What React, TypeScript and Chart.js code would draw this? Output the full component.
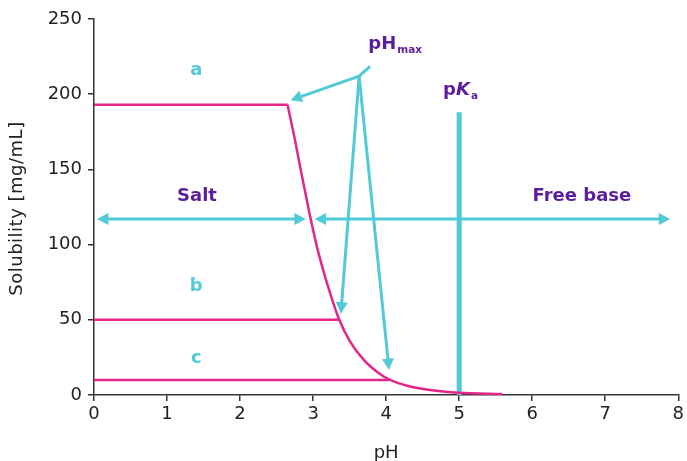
import React, { useEffect, useRef } from 'react';
import { Chart, registerables } from 'chart.js';

Chart.register(...registerables);

// ---- data ----
// plateau of curve "a" and the falling solubility curve above pHmax
const plateauA_PH = [0, 2.65];
const plateauA_Sol = [193, 193];
const curvePH = [2.65, 2.75, 2.85, 2.95, 3.05, 3.15, 3.25, 3.35, 3.5, 3.7, 3.9, 4.04, 4.3, 4.6, 5.0, 5.59];
const curveSol = [193, 170, 145, 121, 99, 81, 65, 51, 36, 23, 14.5, 10.4, 6, 3.3, 1.5, 0.7];
const lineB_PH = [0, 3.35];
const lineB_Sol = [50, 50];
const lineC_PH = [0, 4.05];
const lineC_Sol = [10, 10];
const pKaX = [5, 5];
const pKaY = [0, 188];

const xTicks = [0, 1, 2, 3, 4, 5, 6, 7, 8];
const yTicks = [0, 50, 100, 150, 200, 250];
const xTitle = 'pH';
const yTitle = 'Solubility [mg/mL]';

// arrows [x0, y0, x1, y1] in data units
const saltArrow = [0.04, 117, 2.9, 117];
const baseArrow = [3.02, 117, 7.89, 117];
const phMaxOrigin = [3.63, 212];
const phMaxTargets = [
  [2.69, 196],
  [3.38, 54],
  [4.04, 16.6],
];
const phMaxTick = [3.78, 218.5];

// labels
const letterLabels = ['a', 'b', 'c'];
const letterX = [1.4, 1.4, 1.4];
const letterY = [216, 72.5, 24.6];
const regionLabels = ['Salt', 'Free base'];
const regionX = [1.41, 6.68];
const regionY = [132.3, 132.3];
const phMaxPos = [3.755, 230];
const pKaPos = [4.78, 199.5];

const MAGENTA = '#e5258c';
const CYAN = '#4fcad6';
const PURPLE = '#5b1d9b';
const FONT = '"DejaVu Sans", Verdana, sans-serif';

function pts(xs: number[], ys: number[]) {
  return xs.map((x, i) => ({ x, y: ys[i] }));
}

function drawHead(ctx: CanvasRenderingContext2D, tx: number, ty: number, ang: number, len: number, half: number) {
  ctx.beginPath();
  ctx.moveTo(tx, ty);
  ctx.lineTo(tx - len * Math.cos(ang) + half * Math.sin(ang), ty - len * Math.sin(ang) - half * Math.cos(ang));
  ctx.lineTo(tx - len * Math.cos(ang) - half * Math.sin(ang), ty - len * Math.sin(ang) + half * Math.cos(ang));
  ctx.closePath();
  ctx.fill();
}

function drawArrow(ctx: CanvasRenderingContext2D, x0: number, y0: number, x1: number, y1: number, startHead: boolean, endHead: boolean) {
  const ang = Math.atan2(y1 - y0, x1 - x0);
  const len = 11.5;
  const half = 6;
  const sx = startHead ? x0 + (len - 2) * Math.cos(ang) : x0;
  const sy = startHead ? y0 + (len - 2) * Math.sin(ang) : y0;
  const ex = endHead ? x1 - (len - 2) * Math.cos(ang) : x1;
  const ey = endHead ? y1 - (len - 2) * Math.sin(ang) : y1;
  ctx.beginPath();
  ctx.moveTo(sx, sy);
  ctx.lineTo(ex, ey);
  ctx.stroke();
  if (endHead) drawHead(ctx, x1, y1, ang, len, half);
  if (startHead) drawHead(ctx, x0, y0, ang + Math.PI, len, half);
}

const annotationPlugin = {
  id: 'annot',
  afterDatasetsDraw(chart: any) {
    const { ctx, scales } = chart;
    const X = (v: number) => scales.x.getPixelForValue(v);
    const Y = (v: number) => scales.y.getPixelForValue(v);
    ctx.save();
    ctx.strokeStyle = CYAN;
    ctx.fillStyle = CYAN;
    ctx.lineWidth = 3;
    ctx.lineCap = 'butt';
    drawArrow(ctx, X(saltArrow[0]), Y(saltArrow[1]), X(saltArrow[2]), Y(saltArrow[3]), true, true);
    drawArrow(ctx, X(baseArrow[0]), Y(baseArrow[1]), X(baseArrow[2]), Y(baseArrow[3]), true, true);
    const ox = X(phMaxOrigin[0]);
    const oy = Y(phMaxOrigin[1]);
    phMaxTargets.forEach((t) => drawArrow(ctx, ox, oy, X(t[0]), Y(t[1]), false, true));
    ctx.beginPath();
    ctx.moveTo(ox, oy);
    ctx.lineTo(X(phMaxTick[0]), Y(phMaxTick[1]));
    ctx.stroke();

    // letters
    ctx.textAlign = 'center';
    ctx.textBaseline = 'middle';
    ctx.font = `bold 18px ${FONT}`;
    ctx.fillStyle = CYAN;
    letterLabels.forEach((l, i) => ctx.fillText(l, X(letterX[i]), Y(letterY[i])));
    ctx.fillStyle = PURPLE;
    regionLabels.forEach((l, i) => ctx.fillText(l, X(regionX[i]), Y(regionY[i])));

    // pH max
    ctx.textAlign = 'left';
    ctx.textBaseline = 'alphabetic';
    let px = X(phMaxPos[0]);
    const pyb = Y(phMaxPos[1]);
    ctx.font = `bold 18px ${FONT}`;
    ctx.fillText('pH', px, pyb);
    px += ctx.measureText('pH').width + 1;
    ctx.font = `bold 10.5px ${FONT}`;
    ctx.fillText('max', px, pyb + 4);

    // pKa
    let kx = X(pKaPos[0]);
    const kyb = Y(pKaPos[1]);
    ctx.font = `bold 18px ${FONT}`;
    ctx.fillText('p', kx, kyb);
    kx += ctx.measureText('p').width;
    ctx.font = `italic bold 18px ${FONT}`;
    ctx.fillText('K', kx, kyb);
    kx += ctx.measureText('K').width + 1;
    ctx.font = `bold 10.5px ${FONT}`;
    ctx.fillText('a', kx, kyb + 4);
    ctx.restore();
  },
  afterDraw(chart: any) {
    const { ctx, chartArea } = chart;
    ctx.save();
    ctx.translate(17, (chartArea.top + chartArea.bottom) / 2 + 1.5);
    ctx.rotate(-Math.PI / 2);
    ctx.font = `18px ${FONT}`;
    try {
      (ctx as any).letterSpacing = '0.5px';
    } catch (e) {
      /* ignore */
    }
    ctx.fillStyle = '#222';
    ctx.textAlign = 'center';
    ctx.textBaseline = 'middle';
    ctx.fillText(yTitle, 0, 0);
    ctx.restore();
  },
};

export default function App() {
  const ref = useRef<HTMLCanvasElement | null>(null);
  useEffect(() => {
    if (!ref.current) return;
    const axisColor = '#333333';
    const tickFont = { family: FONT, size: 18 };
    const line = (xs: number[], ys: number[], color: string, width: number, extra: any = {}) => ({
      data: pts(xs, ys),
      showLine: true,
      borderColor: color,
      borderWidth: width,
      pointRadius: 0,
      ...extra,
    });
    const chart = new Chart(ref.current, {
      type: 'scatter',
      data: {
        datasets: [
          line(plateauA_PH, plateauA_Sol, MAGENTA, 2.5),
          line(curvePH, curveSol, MAGENTA, 2.5, { cubicInterpolationMode: 'monotone' }),
          line(lineB_PH, lineB_Sol, MAGENTA, 2.5),
          line(lineC_PH, lineC_Sol, MAGENTA, 2.5),
          line(pKaX, pKaY, CYAN, 5, { borderCapStyle: 'butt' }),
        ],
      } as any,
      options: {
        responsive: false,
        animation: false,
        devicePixelRatio: 1,
        layout: { padding: { top: 19, right: 7, left: 0, bottom: 0 } },
        plugins: { legend: { display: false }, tooltip: { enabled: false } },
        scales: {
          x: {
            type: 'linear',
            min: 0,
            max: 8,
            afterBuildTicks: (s: any) => {
              s.ticks = xTicks.map((v) => ({ value: v }));
            },
            ticks: { color: '#222', font: tickFont, padding: 3, maxRotation: 0 },
            grid: { drawOnChartArea: false, tickLength: 6, color: axisColor, lineWidth: 1.5 },
            border: { color: axisColor, width: 1.5 },
            title: { display: true, text: xTitle, color: '#222', font: { family: FONT, size: 18 }, padding: { top: 0, bottom: -3 } },
            afterFit: (s: any) => {
              s.height = 66;
            },
          },
          y: {
            type: 'linear',
            min: 0,
            max: 250,
            afterBuildTicks: (s: any) => {
              s.ticks = yTicks.map((v) => ({ value: v }));
            },
            ticks: { color: '#222', font: tickFont, padding: 6 },
            grid: { drawOnChartArea: false, tickLength: 6, color: axisColor, lineWidth: 1.5 },
            border: { color: axisColor, width: 1.5 },
            title: { display: false },
            afterFit: (s: any) => {
              s.width = 94;
            },
          },
        },
      } as any,
      plugins: [annotationPlugin],
    });
    return () => chart.destroy();
  }, []);
  return (
    <div style={{ position: 'fixed', left: 0, top: 0, width: 687, height: 461, overflow: 'hidden', background: '#fff' }}>
      <canvas ref={ref} width={687} height={461} style={{ display: 'block' }} />
    </div>
  );
}
